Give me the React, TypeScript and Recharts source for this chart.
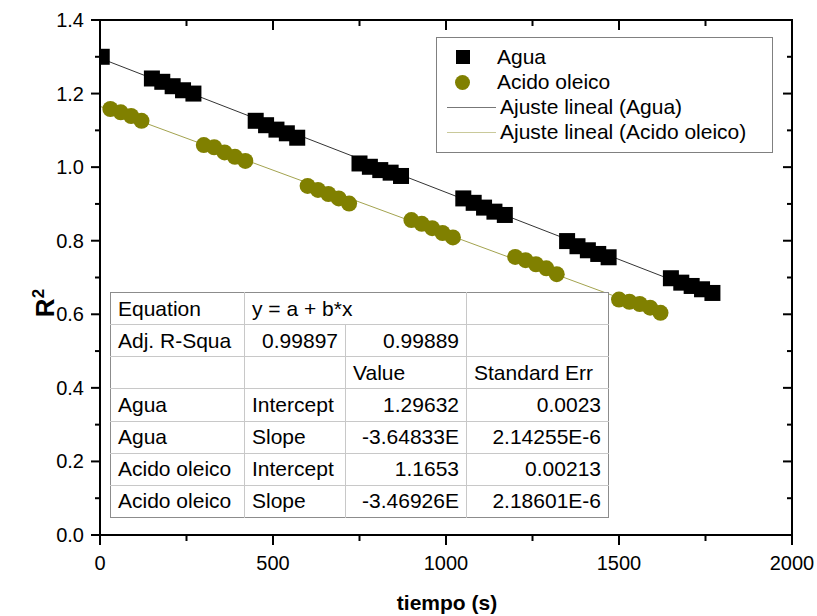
import { ComposedChart, Line, Scatter, XAxis, YAxis } from 'recharts'

const FONT = '"Liberation Sans", Arial, sans-serif'

// measured points (tiempo in s, R^2)
const aguaTimes = [5, 150, 180, 210, 240, 270, 450, 480, 510, 540, 570, 750, 780, 810, 840, 870, 1050, 1080, 1110, 1140, 1170, 1350, 1380, 1410, 1440, 1470, 1650, 1680, 1710, 1740, 1770]
const aguaValues = [1.3, 1.241, 1.232, 1.22, 1.209, 1.2, 1.126, 1.114, 1.102, 1.092, 1.08, 1.01, 1.001, 0.992, 0.985, 0.976, 0.915, 0.903, 0.89, 0.879, 0.87, 0.799, 0.785, 0.774, 0.764, 0.755, 0.698, 0.686, 0.677, 0.668, 0.658]

const oleicoTimes = [30, 60, 90, 120, 300, 330, 360, 390, 420, 600, 630, 660, 690, 720, 900, 930, 960, 990, 1020, 1200, 1230, 1260, 1290, 1320, 1500, 1530, 1560, 1590, 1620]
const oleicoValues = [1.158, 1.149, 1.139, 1.126, 1.06, 1.054, 1.04, 1.028, 1.017, 0.949, 0.938, 0.927, 0.915, 0.901, 0.856, 0.846, 0.834, 0.821, 0.809, 0.756, 0.747, 0.736, 0.725, 0.709, 0.64, 0.634, 0.628, 0.618, 0.604]

// linear fit end points
const aguaFitTimes = [0, 1790]
const aguaFitValues = [1.2963, 0.6433]
const oleicoFitTimes = [0, 1640]
const oleicoFitValues = [1.1653, 0.5963]

const X_MAX = 2000
const Y_MAX = 1.4
const xTicks = [0, 250, 500, 750, 1000, 1250, 1500, 1750, 2000]
const yTicks = [0, 0.1, 0.2, 0.3, 0.4, 0.5, 0.6, 0.7, 0.8, 0.9, 1.0, 1.1, 1.2, 1.3, 1.4]

const tableRows = [
  ['Equation', 'y = a + b*x', '', ''],
  ['Adj. R-Squa', '0.99897', '0.99889', ''],
  ['', '', 'Value', 'Standard Err'],
  ['Agua', 'Intercept', '1.29632', '0.0023'],
  ['Agua', 'Slope', '-3.64833E', '2.14255E-6'],
  ['Acido oleico', 'Intercept', '1.1653', '0.00213'],
  ['Acido oleico', 'Slope', '-3.46926E', '2.18601E-6'],
]
const tableColWidths = [134, 101, 121, 142]

const toPoints = (ts: number[], vs: number[]) => ts.map((t, i) => ({ t, y: vs[i] }))
const agua = toPoints(aguaTimes, aguaValues)
const oleico = toPoints(oleicoTimes, oleicoValues)
const aguaFit = toPoints(aguaFitTimes, aguaFitValues)
const oleicoFit = toPoints(oleicoFitTimes, oleicoFitValues)

const OLIVE = '#808000'
const CHART_W = 817
const CHART_H = 616
const Y_AXIS_W = 60
const X_AXIS_H = 50
const MARGIN = { top: 20, right: 25, bottom: 31, left: 40 }
// plot box (same as the chart's offset)
const PLOT_L = MARGIN.left + Y_AXIS_W
const PLOT_R = CHART_W - MARGIN.right
const PLOT_T = MARGIN.top
const PLOT_B = CHART_H - MARGIN.bottom - X_AXIS_H

const isMajorY = (v: number) => Math.round(v * 10) % 2 === 0
const isMajorX = (v: number) => v % 500 === 0

const LeftTick = ({ x, y, payload }: any) => {
  const v = payload.value
  return (
    <g>
      <line x1={x} x2={x - (isMajorY(v) ? 9 : 5)} y1={y} y2={y} stroke="#000" strokeWidth={2} />
      {isMajorY(v) && (
        <text x={x - 16} y={y} textAnchor="end" dominantBaseline="central" fontSize={20} fontFamily={FONT} fill="#000">
          {v.toFixed(1)}
        </text>
      )}
    </g>
  )
}

const BottomTick = ({ x, y, payload }: any) => {
  const v = payload.value
  return (
    <g>
      <line x1={x} x2={x} y1={y} y2={y + (isMajorX(v) ? 10 : 6)} stroke="#000" strokeWidth={2} />
      {isMajorX(v) && (
        <text x={x} y={y + 35} textAnchor="middle" fontSize={20} fontFamily={FONT} fill="#000">
          {v}
        </text>
      )}
    </g>
  )
}

// top and right frame with inward ticks (mirror of the bottom / left axes)
function Frame() {
  const sx = (t: number) => PLOT_L + (t / X_MAX) * (PLOT_R - PLOT_L)
  const sy = (v: number) => PLOT_B - (v / Y_MAX) * (PLOT_B - PLOT_T)
  return (
    <svg width={CHART_W} height={CHART_H} style={{ position: 'absolute', left: 0, top: 0, pointerEvents: 'none' }}>
      <line x1={PLOT_L - 1} x2={PLOT_R + 1} y1={PLOT_T} y2={PLOT_T} stroke="#000" strokeWidth={2} />
      <line x1={PLOT_R} x2={PLOT_R} y1={PLOT_T - 1} y2={PLOT_B + 1} stroke="#000" strokeWidth={2} />
      {xTicks.map((t) => (
        <line key={'t' + t} x1={sx(t)} x2={sx(t)} y1={PLOT_T} y2={PLOT_T + (isMajorX(t) ? 10 : 6)} stroke="#000" strokeWidth={2} />
      ))}
      {yTicks.map((v) => (
        <line key={'r' + v} x1={PLOT_R} x2={PLOT_R - (isMajorY(v) ? 9 : 5)} y1={sy(v)} y2={sy(v)} stroke="#000" strokeWidth={2} />
      ))}
    </svg>
  )
}

const Square = ({ cx, cy }: any) => <rect x={cx - 8} y={cy - 8} width={16} height={16} fill="#000" />
const Dot = ({ cx, cy }: any) => <circle cx={cx} cy={cy} r={8} fill={OLIVE} />

const axisLine = { stroke: '#000', strokeWidth: 2 }

function FitTable() {
  const cell = (text: string, ci: number, ri: number) => {
    const numeric = /^-?[0-9.]/.test(text)
    return (
      <td
        key={ci}
        colSpan={ri === 0 && ci === 1 ? 2 : 1}
        style={{
          borderLeft: ci === 0 ? 'none' : '1px solid #c8c8c8',
          borderTop: ri === 0 ? 'none' : '1px solid #c8c8c8',
          padding: '0 7px',
          textAlign: numeric ? 'right' : 'left',
          whiteSpace: 'nowrap',
          overflow: 'hidden',
        }}
      >
        {text}
      </td>
    )
  }
  return (
    <table
      style={{
        position: 'absolute',
        left: 110,
        top: 292,
        width: 498,
        height: 226,
        borderCollapse: 'collapse',
        tableLayout: 'fixed',
        background: '#fff',
        border: '1px solid #8c8c8c',
        fontFamily: FONT,
        fontSize: 21,
        color: '#000',
      }}
    >
      <colgroup>
        {tableColWidths.map((w, i) => (
          <col key={i} style={{ width: w }} />
        ))}
      </colgroup>
      <tbody>
        {tableRows.map((row, ri) => (
          <tr key={ri} style={{ height: 32 }}>
            {row.map((text, ci) => (ri === 0 && ci === 2 ? null : cell(text, ci, ri)))}
          </tr>
        ))}
      </tbody>
    </table>
  )
}

function LegendBox() {
  const row = { position: 'absolute' as const, left: 0, height: 26, display: 'flex', alignItems: 'center' }
  return (
    <div
      style={{
        position: 'absolute',
        left: 436,
        top: 37,
        width: 335,
        height: 114,
        border: '1px solid #808080',
        background: '#fff',
        fontFamily: FONT,
        fontSize: 21,
        color: '#000',
      }}
    >
      <div style={{ ...row, top: 6 }}>
        <div style={{ width: 14, height: 14, background: '#000', marginLeft: 19, marginRight: 27 }} />
        <span>Agua</span>
      </div>
      <div style={{ ...row, top: 31 }}>
        <div style={{ width: 15, height: 15, borderRadius: '50%', background: OLIVE, marginLeft: 18, marginRight: 27 }} />
        <span>Acido oleico</span>
      </div>
      <div style={{ ...row, top: 56 }}>
        <div style={{ width: 49, height: 1, background: '#777', marginLeft: 10, marginRight: 4 }} />
        <span>Ajuste lineal (Agua)</span>
      </div>
      <div style={{ ...row, top: 81 }}>
        <div style={{ width: 49, height: 1, background: '#c9c99a', marginLeft: 10, marginRight: 4 }} />
        <span>Ajuste lineal (Acido oleico)</span>
      </div>
    </div>
  )
}

export default function App() {
  return (
    <div style={{ position: 'absolute', left: 0, top: 0, width: CHART_W, height: CHART_H, background: '#fff' }}>
      <ComposedChart width={CHART_W} height={CHART_H} margin={MARGIN}>
        <XAxis
          dataKey="t"
          type="number"
          domain={[0, X_MAX]}
          ticks={xTicks}
          interval={0}
          height={X_AXIS_H}
          tickSize={0}
          tickMargin={0}
          tickLine={false}
          axisLine={axisLine}
          tick={<BottomTick />}
          allowDataOverflow
        />
        <YAxis
          type="number"
          domain={[0, Y_MAX]}
          ticks={yTicks}
          interval={0}
          width={Y_AXIS_W}
          tickSize={0}
          tickMargin={0}
          tickLine={false}
          axisLine={axisLine}
          tick={<LeftTick />}
          allowDataOverflow
        />
        <Line data={aguaFit} dataKey="y" type="linear" stroke="#333" strokeWidth={1} dot={false} activeDot={false} isAnimationActive={false} />
        <Line data={oleicoFit} dataKey="y" type="linear" stroke="#a3a34f" strokeWidth={1} dot={false} activeDot={false} isAnimationActive={false} />
        <Scatter data={agua} dataKey="y" shape={<Square />} isAnimationActive={false} />
        <Scatter data={oleico} dataKey="y" shape={<Dot />} isAnimationActive={false} />
      </ComposedChart>
      <FitTable />
      <LegendBox />
      <Frame />
      <div
        style={{
          position: 'absolute',
          left: 45,
          top: 303,
          transform: 'translate(-50%, -50%) rotate(-90deg)',
          fontFamily: FONT,
          fontWeight: 'bold',
          fontSize: 26,
          whiteSpace: 'nowrap',
        }}
      >
        R<sup style={{ fontSize: 17 }}>2</sup>
      </div>
      <div
        style={{
          position: 'absolute',
          left: 447,
          top: 603,
          transform: 'translate(-50%, -50%)',
          fontFamily: FONT,
          fontWeight: 'bold',
          fontSize: 21,
          whiteSpace: 'nowrap',
        }}
      >
        tiempo (s)
      </div>
    </div>
  )
}
